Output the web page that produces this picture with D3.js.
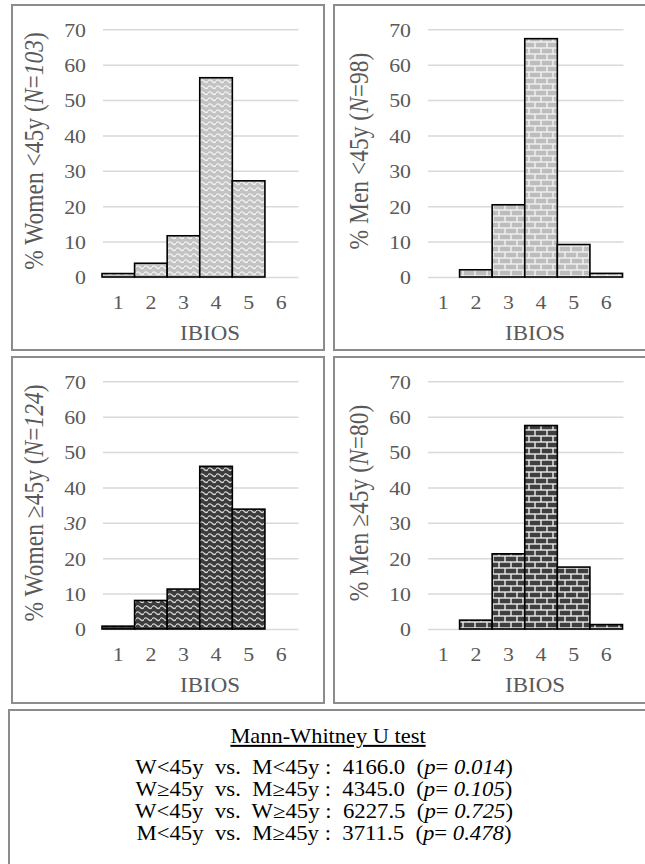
<!DOCTYPE html>
<html><head><meta charset="utf-8">
<script src="https://cdn.jsdelivr.net/npm/d3@7"></script>
<style>
body{margin:0;background:#fff}
text{font-family:"Liberation Serif","Times New Roman",serif}
</style>
</head><body><svg id="c" width="645" height="864"></svg>
<script>
// ---------- data ----------
const categories = [1, 2, 3, 4, 5, 6];
const womenUnder45 = [0.97, 3.88, 11.65, 56.31, 27.18, 0];
const menUnder45   = [0, 2.04, 20.41, 67.35, 9.18, 1.02];
const womenOver45  = [0.81, 8.06, 11.29, 45.97, 33.87, 0];
const menOver45    = [0, 2.5, 21.25, 57.5, 17.5, 1.25];
const yTicks = [0, 10, 20, 30, 40, 50, 60, 70];
const xTitle = "IBIOS";
const labelWomenUnder = [["% Women <45y (", false], ["N", true], ["=", false], ["103", true], [")", false]];
const labelMenUnder   = [["% Men <45y (", false], ["N", true], ["=98)", false]];
const labelWomenOver  = [["% Women \u226545y (", false], ["N", true], ["=", false], ["124", true], [")", false]];
const labelMenOver    = [["% Men \u226545y (", false], ["N", true], ["=80)", false]];
const testTitle = "Mann-Whitney U test";
const testComparisons = ["W<45y  vs.  M<45y :  ", "W\u226545y  vs.  M\u226545y :  ", "W<45y  vs.  W\u226545y :  ", "M<45y  vs.  M\u226545y :  "];
const testStatistics = ["4166.0", "4345.0", "6227.5", "3711.5"];
const testPValues = ["0.014", "0.105", "0.725", "0.478"];

// ---------- setup ----------
const svg = d3.select("#c");
svg.append("rect").attr("width", 645).attr("height", 864).attr("fill", "#fff");
const defs = svg.append("defs");
const SX = 1.12; // horizontal text stretch

function wave(id, bg, fg) {
  const p = defs.append("pattern").attr("id", id).attr("patternUnits", "userSpaceOnUse")
    .attr("width", 8).attr("height", 6);
  p.append("rect").attr("width", 8).attr("height", 6).attr("fill", bg);
  p.append("path").attr("d", "M-0.5,3.2 Q2,0.6 4,3.2 T8.5,3.2")
    .attr("fill", "none").attr("stroke", fg).attr("stroke-width", 1.3);
}
function brick(id, brickCol, mortar) {
  const p = defs.append("pattern").attr("id", id).attr("patternUnits", "userSpaceOnUse")
    .attr("width", 12).attr("height", 12);
  p.append("rect").attr("width", 12).attr("height", 12).attr("fill", mortar);
  const b = [[0.7, 0.7, 10.6, 4.6], [0, 6.7, 5.3, 4.6], [6.7, 6.7, 5.3, 4.6]];
  b.forEach(r => p.append("rect").attr("x", r[0]).attr("y", r[1]).attr("width", r[2]).attr("height", r[3]).attr("fill", brickCol));
}
wave("waveLight", "#c3c3c3", "#f4f4f4");
wave("waveDark", "#3c3c3c", "#d6d6d6");
brick("brickLight", "#bdbdbd", "#f3f3f3");
brick("brickDark", "#3f3f3f", "#ececec");

const panels = [
  {values: womenUnder45, label: labelWomenUnder, fill: "url(#waveLight)", ox: 0, oy: 0, bx: 12, bw: 312, by: 5, bh: 345, italicTick: null},
  {values: menUnder45, label: labelMenUnder, fill: "url(#brickLight)", ox: 325, oy: 0, bx: 334, bw: 330, by: 5, bh: 345, italicTick: null},
  {values: womenOver45, label: labelWomenOver, fill: "url(#waveDark)", ox: 0, oy: 352, bx: 12, bw: 312, by: 357, bh: 346, italicTick: 30},
  {values: menOver45, label: labelMenOver, fill: "url(#brickDark)", ox: 325, oy: 352, bx: 334, bw: 330, by: 357, bh: 346, italicTick: null}
];

const grey = "#595959";
const x = d3.scaleBand().domain(categories).range([102, 297.5]).padding(0);
const y = d3.scaleLinear().domain([0, 70]).range([277, 29.3]);

panels.forEach(pn => {
  svg.append("rect").attr("x", pn.bx).attr("y", pn.by).attr("width", pn.bw).attr("height", pn.bh)
    .attr("fill", "none").attr("stroke", "#8c8c8c").attr("stroke-width", 2);

  const g = svg.append("g").attr("transform", `translate(${pn.ox},${pn.oy})`);

  // y axis + gridlines
  const ya = g.append("g").attr("transform", `translate(${x.range()[0] + 1},0)`)
    .call(d3.axisLeft(y).tickValues(yTicks).tickSize(-(x.range()[1] - x.range()[0])).tickFormat(d3.format("d")));
  ya.select(".domain").remove();
  ya.selectAll(".tick line").attr("stroke", "#d9d9d9").attr("stroke-width", 1.5);
  ya.selectAll(".tick text").attr("x", null).attr("dy", "0.35em")
    .attr("transform", `translate(-17,0) scale(${SX},1)`)
    .attr("fill", grey).style("font-size", "19.5px")
    .style("font-style", d => d === pn.italicTick ? "italic" : null);

  // bars
  g.selectAll("rect.bar").data(categories.map((c, i) => ({c, v: pn.values[i]})).filter(d => d.v > 0))
    .enter().append("rect").attr("class", "bar")
    .attr("x", d => x(d.c)).attr("width", x.bandwidth())
    .attr("y", d => y(d.v)).attr("height", d => y(0) - y(d.v))
    .attr("fill", pn.fill).attr("stroke", "#000").attr("stroke-width", 1.6);

  // x axis
  const xa = g.append("g").attr("transform", `translate(0,${y(0)})`)
    .call(d3.axisBottom(x).tickSize(0));
  xa.select(".domain").remove();
  xa.selectAll(".tick text").attr("y", null).attr("dy", null)
    .attr("transform", `translate(0,31.5) scale(${SX},1)`)
    .attr("fill", grey).style("font-size", "19.5px");

  // x title
  g.append("text").attr("transform", `translate(210,340) scale(${SX},1)`)
    .attr("text-anchor", "middle").attr("fill", grey).style("font-size", "20.5px").text(xTitle);

  // y title
  const yt = g.append("text").attr("transform", `translate(34,151) scale(${SX},1) rotate(-90)`)
    .attr("text-anchor", "middle").attr("dy", "0.35em").attr("fill", grey).style("font-size", "23.5px");
  yt.selectAll("tspan").data(pn.label).enter().append("tspan")
    .style("font-style", d => d[1] ? "italic" : null).text(d => d[0]);
});

// ---------- test box ----------
svg.append("rect").attr("x", 9).attr("y", 710).attr("width", 660).attr("height", 180)
  .attr("fill", "none").attr("stroke", "#8c8c8c").attr("stroke-width", 2);

svg.append("text").attr("transform", `translate(328,743) scale(${SX},1)`)
  .attr("text-anchor", "middle").attr("fill", "#000").style("font-size", "20px")
  .style("text-decoration", "underline").text(testTitle);

testComparisons.forEach((c, i) => {
  const t = svg.append("text").attr("transform", `translate(324,${774 + i * 22}) scale(${SX},1)`)
    .attr("text-anchor", "middle").attr("fill", "#000").style("font-size", "20.3px")
    .style("white-space", "pre").attr("xml:space", "preserve");
  t.append("tspan").text(c + testStatistics[i] + "  (");
  t.append("tspan").style("font-style", "italic").text("p");
  t.append("tspan").text("= ");
  t.append("tspan").style("font-style", "italic").text(testPValues[i]);
  t.append("tspan").text(")");
});
</script>
</body></html>
